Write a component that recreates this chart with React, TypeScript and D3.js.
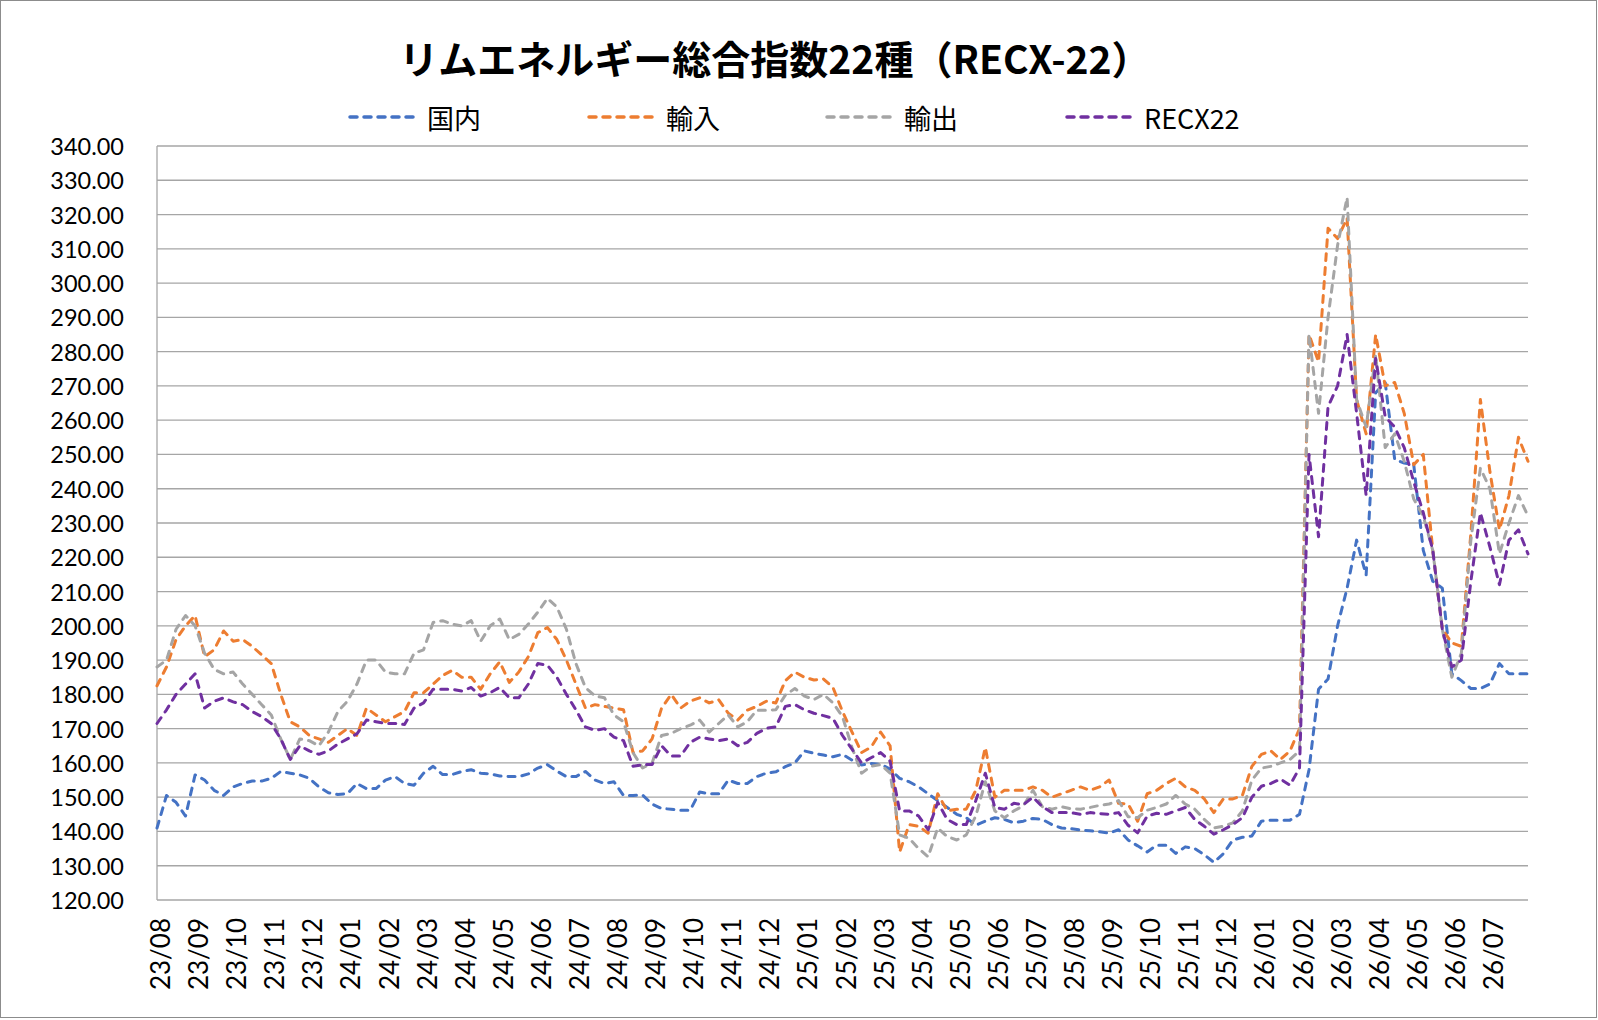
import React from 'react';
import * as d3 from 'd3';

// 月ラベル (23/08 .. 26/07)
const months = [
  '23/08', '23/09', '23/10', '23/11', '23/12',
  '24/01', '24/02', '24/03', '24/04', '24/05', '24/06', '24/07', '24/08', '24/09', '24/10', '24/11', '24/12',
  '25/01', '25/02', '25/03', '25/04', '25/05', '25/06', '25/07', '25/08', '25/09', '25/10', '25/11', '25/12',
  '26/01', '26/02', '26/03', '26/04', '26/05', '26/06', '26/07',
];

// 週次の値 (各月4点)
const domestic = [
  141, 150.5, 148.5, 144.5, 156.5, 155, 152, 150.5, 153, 154, 154.7, 154.7, 155.5, 157.5, 157, 156.5,
  155.5, 153, 151.3, 150.8, 151, 154, 152.5, 152.5, 155, 156, 154, 153.5, 157, 159, 156.6, 156.6,
  157.5, 158, 157, 156.8, 156.2, 156, 156, 156.8, 158.5, 159.5, 157.6, 156, 156, 157.5, 155, 154,
  154.5, 150.5, 150.5, 150.6, 148, 146.7, 146.5, 146.2, 146.2, 151.5, 151, 151, 155, 154, 154, 156,
  157, 157.4, 158.9, 160, 163.5, 162.8, 162.3, 161.8, 162.5, 160.8, 159.4, 159.8, 159.6, 158.2, 155.5, 154.5,
  153, 151, 149, 147, 145, 144, 141.8, 143, 144, 143.5, 142.5, 143, 143.8, 143.5, 142, 141,
  140.8, 140.4, 140.2, 139.9, 139.5, 140.5, 137.5, 135.8, 134, 136, 136, 133.6, 135.5, 135, 133.2, 131,
  133.5, 137.5, 138.3, 138.7, 143, 143.3, 143.3, 143.3, 145, 158, 181.5, 184.5, 200, 211, 225, 214.8,
  268, 271, 248.5, 247.5, 247, 222, 213, 211, 186, 184, 181.7, 181.7, 183, 189, 186, 186,
  186,
];

const imports = [
  182.5, 188, 196, 200, 203, 191, 193, 198.5, 195.5, 196, 194, 191.5, 189, 180, 172, 170.5,
  168, 167, 166, 168, 170, 168, 176, 174, 172, 173.5, 175, 180.5, 180.5, 183, 185.5, 187,
  185, 185, 181.5, 186, 189.5, 183.5, 186.5, 191, 198, 199.5, 196, 190, 183, 176, 177, 176.5,
  176, 175.5, 163, 163.5, 167, 176, 180, 176, 178, 179, 177.5, 178.4, 174.5, 172.5, 175.4, 176.5,
  178, 177.5, 184, 186.5, 185, 184.2, 184.5, 182, 175, 169, 163, 164.6, 169, 165, 134, 142,
  141.5, 139.5, 151, 146, 146.5, 146.5, 152, 164.5, 150, 152, 152, 152, 153, 152, 150, 151,
  152, 153, 152, 153, 155, 148.2, 148, 143, 151, 152, 154, 155.5, 153, 152, 149.5, 145.5,
  149.5, 149.5, 150.5, 159, 162.5, 163.5, 161, 163.5, 170, 285, 277, 316, 313, 319, 266, 256,
  285, 270, 271, 262, 247, 250, 222, 199, 195, 194, 227, 266, 245, 228, 238, 255,
  248,
];

const exports = [
  188, 190, 199, 203, 200, 192, 187.3, 186, 186.5, 183, 180, 177, 174, 167, 161, 167,
  166.5, 165, 169, 175, 178, 183, 190, 190, 186.5, 186, 186, 192, 193, 201, 201.5, 200.5,
  200, 201.5, 195.5, 200, 202, 196, 197.5, 200.5, 204, 208, 205.5, 199, 189, 182, 179.5, 179,
  174, 172, 163, 158.5, 160, 168, 168.6, 170, 171, 172.5, 169, 171.5, 174, 170.5, 172, 175.4,
  175.4, 175.5, 179.8, 181.7, 179.5, 178.5, 180, 177.5, 173.5, 164.5, 157, 159, 159.5, 157, 139, 138,
  135, 132.6, 141, 138.5, 137.5, 139, 144.5, 154.5, 146, 144, 146, 147.5, 152, 147.2, 146.5, 147.2,
  146.6, 146.5, 147, 147.6, 148, 149, 144.3, 144, 146.2, 147, 148, 150.5, 148, 146.5, 143.5, 141,
  141.5, 142.5, 146, 155, 158.5, 159, 160, 161, 163.5, 285, 262, 290, 311, 325, 266, 258,
  279, 252, 256, 248, 237, 232, 222, 199, 185, 192, 225, 246, 240, 221, 230, 238,
  232,
];

const recx22 = [
  171.5, 175.5, 180, 183, 186, 176, 178, 179, 177.8, 177, 175, 173.5, 171.5, 167, 161, 165,
  163.5, 162.5, 163.5, 165.5, 167, 168.5, 172.5, 172, 171.5, 171.5, 171.2, 176, 177.5, 181.5, 181.5, 181.5,
  181, 182, 179.5, 180.5, 182, 179, 179, 183, 189, 188.5, 185, 180, 175.5, 170.5, 169.5, 170,
  167.5, 166.5, 159, 159.5, 159.5, 165, 162, 162, 166, 167.5, 167, 166.5, 167, 165, 166, 168.6,
  170.1, 170.5, 176.5, 177, 175.5, 174.5, 173.8, 173, 168, 164, 160, 161.5, 163, 160.5, 146, 146,
  144.5, 140.5, 148.5, 143.5, 142, 142, 149, 157, 147, 146.5, 148.2, 147.8, 150, 147.2, 145.5, 145.5,
  145.5, 145, 145.5, 145.2, 145, 145.5, 141.8, 139.6, 144.5, 145.3, 145, 146, 147, 143.5, 141.5, 139.2,
  140.5, 142, 144, 150, 153.2, 154, 155.3, 153.5, 158.5, 250, 226, 264, 270, 285, 262, 238,
  278, 261, 258, 252, 242, 233, 222, 199, 188, 190, 213, 233, 223, 212, 225, 228,
  221,
];

const yTicks = d3.range(120, 341, 10);

const series = [
  { name: '国内', values: domestic, color: '#4472C4' },
  { name: '輸入', values: imports, color: '#ED7D31' },
  { name: '輸出', values: exports, color: '#A5A5A5' },
  { name: 'RECX22', values: recx22, color: '#7030A0' },
];

const W = 1598;
const H = 1020;
const perMonth = 4;

const App = () => {
  const x = d3.scaleLinear().domain([0, months.length]).range([157, 1528]);
  const y = d3.scaleLinear().domain([120, 340]).range([900, 146]);

  const line = d3.line<number>()
    .x((_, i) => x(i / perMonth))
    .y((d) => y(d));

  const legendX = [350, 589, 827, 1067];
  const numFont = 'Lato, "Open Sans", sans-serif';
  const jpFont = '"Noto Sans CJK JP", "Noto Sans", sans-serif';

  return (
    <svg width={W} height={H} style={{ position: 'absolute', left: 0, top: 0, background: '#fff' }}>
      <rect x={0.5} y={0.5} width={W - 2} height={H - 3} fill="#fff" stroke="#8c8c8c" strokeWidth={1} />

      {/* タイトル */}
      <text x={775} y={57} textAnchor="middle" dominantBaseline="central"
        fontFamily={jpFont} fontWeight="bold" fontSize={39} fill="#000">
        リムエネルギー総合指数22種（RECX-22）
      </text>

      {/* 凡例 */}
      {series.map((s, i) => (
        <g key={s.name}>
          <line x1={legendX[i]} x2={legendX[i] + 70} y1={117} y2={117}
            stroke={s.color} strokeWidth={3.5} strokeDasharray="7 7" strokeLinecap="round" />
          <text x={legendX[i] + 77} y={117} dominantBaseline="central"
            fontFamily={jpFont} fontSize={27} fill="#000">{s.name}</text>
        </g>
      ))}

      {/* 目盛線 */}
      {yTicks.map((t) => (
        <g key={t}>
          <line x1={x(0)} x2={x(months.length)} y1={y(t)} y2={y(t)} stroke="#a6a6a6" strokeWidth={1.3} />
          <text x={124} y={y(t)} textAnchor="end" dominantBaseline="central"
            fontFamily={numFont} fontSize={23.5} fill="#000">{t.toFixed(2)}</text>
        </g>
      ))}
      <line x1={x(0)} x2={x(0)} y1={y(340)} y2={y(120)} stroke="#a6a6a6" strokeWidth={1.3} />

      {/* 横軸ラベル */}
      {months.map((m, i) => (
        <text key={m} transform={`translate(${x(i) + 3},918) rotate(-90)`} textAnchor="end"
          dominantBaseline="central" fontFamily={numFont} fontSize={26} fill="#000">{m}</text>
      ))}

      {/* 系列 */}
      {series.map((s) => (
        <path key={s.name} d={line(s.values) ?? ''} fill="none" stroke={s.color}
          strokeWidth={3} strokeDasharray="7 7" strokeLinecap="round" strokeLinejoin="round" />
      ))}
    </svg>
  );
};

export default App;
